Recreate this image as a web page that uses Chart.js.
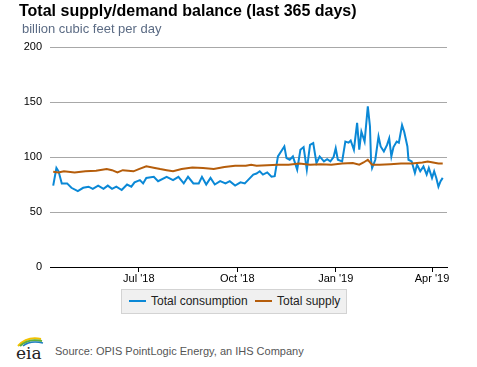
<!DOCTYPE html>
<html>
<head>
<meta charset="utf-8">
<script src="https://cdn.jsdelivr.net/npm/chart.js@4"></script>
<style>
  body { margin: 0; background: #fff; font-family: "Liberation Sans", Arial, sans-serif; }
  #wrap { position: relative; width: 477px; height: 367px; overflow: hidden; }
  #title { position: absolute; left: 19px; top: 2px; font-size: 16px; font-weight: bold; color: #000; white-space: nowrap; }
  #subtitle { position: absolute; left: 22px; top: 21px; font-size: 13px; color: #5b6b84; white-space: nowrap; }
  #chartBox { position: absolute; left: 0; top: 0; width: 477px; height: 290px; }
  #legend { position: absolute; left: 121px; top: 289px; width: 224px; height: 23px; background: #f0f0f0; border: 1px solid #d3d3d3; font-size: 12px; color: #222; }
  .item { position: absolute; top: 4px; white-space: nowrap; }
  .swatch { display: inline-block; width: 17px; height: 2px; vertical-align: middle; margin-right: 5px; position: relative; top: -1px; }
  #source { position: absolute; left: 55px; top: 345px; font-size: 11px; color: #555; white-space: nowrap; }
  #logo { position: absolute; left: 15px; top: 334px; }
</style>
</head>
<body>
<div id="wrap">
  <div id="chartBox"><canvas id="chart" width="477" height="290"></canvas></div>
  <div id="title">Total supply/demand balance (last 365 days)</div>
  <div id="subtitle">billion cubic feet per day</div>
  <div id="legend">
    <div class="item" style="left:7px"><span class="swatch" style="background:#0a88d6"></span>Total consumption</div>
    <div class="item" style="left:133px"><span class="swatch" style="background:#b55d0b"></span>Total supply</div>
  </div>
  <svg id="logo" width="30" height="28" viewBox="0 0 30 28">
    <path d="M3 12 Q12 2 26 5" stroke="#f2c200" stroke-width="2" fill="none"/>
    <path d="M5 12 Q13 4 27 7" stroke="#5fae3a" stroke-width="2" fill="none"/>
    <path d="M8 12 Q15 6 28 9" stroke="#1f7fc1" stroke-width="1.6" fill="none"/>
    <text x="1" y="25" font-family="DejaVu Serif, serif" font-size="17" fill="#222">eia</text>
  </svg>
  <div id="source">Source: OPIS PointLogic Energy, an IHS Company</div>
</div>
<script>
// day 0 = Apr 12 2018, last day = Apr 11 2019
const tickDays = [80, 172, 264, 354];
const tickLabels = ["Jul '18", "Oct '18", "Jan '19", "Apr '19"];

const consumptionDays = [0, 3, 5, 8, 13, 17, 23, 28, 33, 37, 42, 47, 51, 55, 59, 64, 69, 73, 76, 81,
  84, 87, 94, 98, 106, 112, 117, 122, 126, 131, 136, 139, 143, 147, 151, 156, 161, 165, 170, 175,
  179, 182, 187, 190, 193, 196, 200, 204, 207, 210, 214, 216, 218, 221, 224, 228, 231, 234, 237, 240,
  243, 246, 249, 253, 256, 259, 262, 264, 266, 270, 273, 276, 278, 281, 284, 286, 288, 291, 294, 296,
  297, 298, 301, 304, 306, 309, 312, 314, 316, 318, 321, 323, 326, 328, 331, 332, 335, 338, 340, 343,
  346, 349, 351, 354, 356, 358, 360, 362, 364];
const consumption = [74, 90, 87, 76, 76, 72, 69, 72, 73, 71, 74, 71, 74, 71, 73, 70, 75, 73, 77, 79,
  76, 81, 82, 78, 82, 79, 82, 76, 82, 76, 76, 82, 75, 81, 75, 78, 76, 78, 74, 77,
  76, 79, 84, 85, 87, 84, 86, 82, 82.5, 100.5, 106.6, 109.6, 99, 97.5, 100.5, 88.5, 106.6, 109, 88.5, 111,
  112.7, 94.5, 100.5, 96, 98, 96, 100, 108, 97.5, 96, 114, 113, 115, 106.6, 131, 106.6, 123, 114, 146, 128,
  97.5, 90, 97.5, 118.7, 109.6, 105, 111, 117, 100.5, 109, 114, 113, 129, 123, 109.6, 97.5, 96, 85.5, 93, 87,
  91.5, 84, 90, 81, 87, 81, 73, 78, 81];

const supplyDays = [0, 5, 10, 20, 30, 40, 50, 55, 60, 65, 75, 80, 87, 95, 100, 106, 112, 120, 130, 140,
  150, 160, 170, 180, 185, 190, 200, 210, 220, 230, 240, 250, 260, 270, 280, 286, 290, 294, 298, 305,
  315, 325, 335, 345, 350, 355, 360, 364];
const supply = [86.5, 86, 87, 86, 87, 87.5, 89, 88, 86, 88, 87, 89, 91.5, 90, 89, 88, 87, 89, 90.5, 90,
  89, 91, 92, 92, 93, 92, 92.5, 93, 93, 94, 93, 93.5, 93, 94, 94.5, 93, 95, 97.5, 93, 93,
  93.5, 94, 94, 95, 96, 95, 94, 94];

const toPoints = (days, vals) => days.map((d, i) => ({ x: d, y: vals[i] }));

new Chart(document.getElementById('chart').getContext('2d'), {
  type: 'line',
  data: {
    datasets: [
      {
        label: 'Total supply',
        data: toPoints(supplyDays, supply),
        borderColor: '#b55d0b',
        borderWidth: 2,
        pointRadius: 0,
        tension: 0
      },
      {
        label: 'Total consumption',
        data: toPoints(consumptionDays, consumption),
        borderColor: '#0a88d6',
        borderWidth: 2,
        pointRadius: 0,
        tension: 0
      }
    ]
  },
  options: {
    responsive: false,
    animation: false,
    layout: { padding: { top: 47, right: 30, left: 0, bottom: 0 } },
    plugins: { legend: { display: false }, tooltip: { enabled: false } },
    scales: {
      x: {
        type: 'linear',
        min: -3,
        max: 368,
        afterBuildTicks: axis => { axis.ticks = tickDays.map(v => ({ value: v })); },
        afterFit: axis => { axis.height = 23; },
        ticks: {
          callback: v => tickLabels[tickDays.indexOf(v)],
          font: { family: 'Liberation Sans', size: 11 },
          color: '#000',
          padding: 0,
          maxRotation: 0,
          autoSkip: false
        },
        grid: { drawOnChartArea: false, drawTicks: true, tickLength: 5, color: '#000' },
        border: { color: '#000', width: 1 }
      },
      y: {
        min: 0,
        max: 200,
        afterFit: axis => { axis.width = 50; },
        ticks: {
          stepSize: 50,
          font: { family: 'Liberation Sans', size: 11 },
          color: '#000',
          padding: 8
        },
        grid: { color: '#a8a8a8', drawTicks: false },
        border: { display: false }
      }
    }
  }
});
</script>
</body>
</html>
